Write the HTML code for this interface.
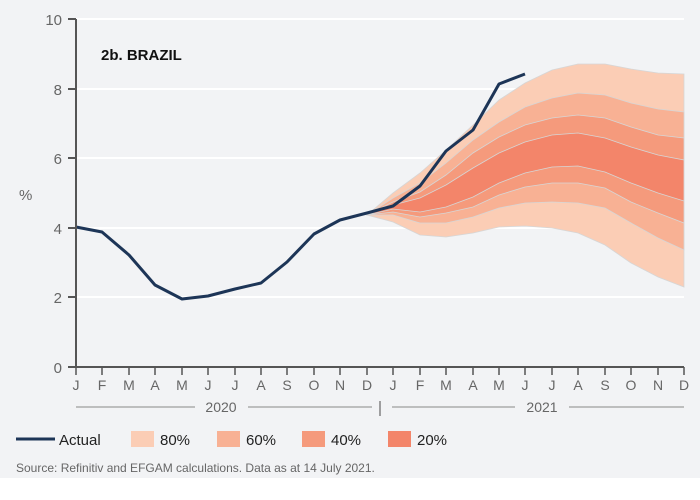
<!DOCTYPE html>
<html><head><meta charset="utf-8"><style>
body{margin:0;background:#fff;}
svg{display:block;font-family:"Liberation Sans",sans-serif;}
</style></head><body>
<svg width="700" height="500" viewBox="0 0 700 500">
<rect x="0" y="0" width="700" height="478" fill="#f2f3f5"/>
<g stroke="#ffffff" stroke-width="2">
<line x1="76" y1="19" x2="684" y2="19"/><line x1="76" y1="89" x2="684" y2="89"/>
<line x1="76" y1="158" x2="684" y2="158"/><line x1="76" y1="228" x2="684" y2="228"/>
<line x1="76" y1="297" x2="684" y2="297"/>
</g>
<g stroke="#d6d6d6" stroke-width="0.8">
<polygon fill="#fbcdb5" points="367,215 393,193 420,173 446,150 473,125 499,100 525,83 552,70 578,64 605,64 631,69 658,73 684,74 684,287 658,277 631,263 605,245 578,233 552,228 525,226 499,227 473,233 446,237 420,235 393,222"/>
<polygon fill="#f8b194" points="367,215 393,198 420,183 446,163 473,140 499,122 525,107 552,98 578,93 605,95 631,103 658,109 684,112 684,250 658,238 631,223 605,208 578,203 552,202 525,203 499,208 473,217 446,223 420,223 393,215"/>
<polygon fill="#f59a7c" points="367,215 393,202 420,192 446,175 473,153 499,137 525,125 552,118 578,115 605,118 631,127 658,135 684,138 684,223 658,213 631,202 605,188 578,183 552,183 525,187 499,195 473,207 446,213 420,217 393,212"/>
<polygon fill="#f3856a" points="367,215 393,205 420,198 446,185 473,168 499,153 525,142 552,135 578,133 605,138 631,147 658,155 684,160 684,201 658,193 631,183 605,172 578,166 552,167 525,173 499,183 473,197 446,207 420,212 393,209"/>
</g>
<polyline fill="none" stroke="#1d3557" stroke-width="3" stroke-linejoin="round" points="76,227 102,232 129,255 155,285 182,299 208,296 235,289 261,283 287,262 314,234 340,220 367,213 393,206 420,186 446,151 473,130 499,84 525,74"/>
<g stroke="#555" stroke-width="2">
<line x1="76" y1="19" x2="76" y2="367"/><line x1="68" y1="367" x2="684" y2="367"/>
<line x1="68" y1="19" x2="76" y2="19"/><line x1="68" y1="89" x2="76" y2="89"/><line x1="68" y1="158" x2="76" y2="158"/><line x1="68" y1="228" x2="76" y2="228"/><line x1="68" y1="297" x2="76" y2="297"/>
</g>
<g stroke="#555" stroke-width="1.5" id="t"></g>
<g fill="#666" font-size="15" text-anchor="end">
<text x="62" y="25">10</text><text x="62" y="95">8</text><text x="62" y="164">6</text><text x="62" y="234">4</text><text x="62" y="303">2</text><text x="62" y="373">0</text>
</g>
<text x="19" y="200" fill="#666" font-size="15">%</text>
<text x="101" y="60" fill="#111" font-size="15" font-weight="bold">2b. BRAZIL</text>
<g fill="#666" font-size="14" text-anchor="middle" stroke="#555" stroke-width="1.5">
<script>
</script>
</g>
<g fill="#666" font-size="14" text-anchor="middle">
<text x="76" y="390">J</text><text x="102" y="390">F</text><text x="129" y="390">M</text><text x="155" y="390">A</text><text x="182" y="390">M</text><text x="208" y="390">J</text><text x="235" y="390">J</text><text x="261" y="390">A</text><text x="287" y="390">S</text><text x="314" y="390">O</text><text x="340" y="390">N</text><text x="367" y="390">D</text>
<text x="393" y="390">J</text><text x="420" y="390">F</text><text x="446" y="390">M</text><text x="473" y="390">A</text><text x="499" y="390">M</text><text x="525" y="390">J</text><text x="552" y="390">J</text><text x="578" y="390">A</text><text x="605" y="390">S</text><text x="631" y="390">O</text><text x="658" y="390">N</text><text x="684" y="390">D</text>
<text x="221" y="412">2020</text><text x="542" y="412">2021</text>
</g>
<g stroke="#555" stroke-width="1.5">
<line x1="76" y1="367" x2="76" y2="375"/><line x1="102" y1="367" x2="102" y2="375"/><line x1="129" y1="367" x2="129" y2="375"/><line x1="155" y1="367" x2="155" y2="375"/><line x1="182" y1="367" x2="182" y2="375"/><line x1="208" y1="367" x2="208" y2="375"/><line x1="235" y1="367" x2="235" y2="375"/><line x1="261" y1="367" x2="261" y2="375"/><line x1="287" y1="367" x2="287" y2="375"/><line x1="314" y1="367" x2="314" y2="375"/><line x1="340" y1="367" x2="340" y2="375"/><line x1="367" y1="367" x2="367" y2="375"/><line x1="393" y1="367" x2="393" y2="375"/><line x1="420" y1="367" x2="420" y2="375"/><line x1="446" y1="367" x2="446" y2="375"/><line x1="473" y1="367" x2="473" y2="375"/><line x1="499" y1="367" x2="499" y2="375"/><line x1="525" y1="367" x2="525" y2="375"/><line x1="552" y1="367" x2="552" y2="375"/><line x1="578" y1="367" x2="578" y2="375"/><line x1="605" y1="367" x2="605" y2="375"/><line x1="631" y1="367" x2="631" y2="375"/><line x1="658" y1="367" x2="658" y2="375"/><line x1="684" y1="367" x2="684" y2="375"/>
</g>
<g stroke="#888" stroke-width="1">
<line x1="76" y1="407" x2="195" y2="407"/><line x1="248" y1="407" x2="372" y2="407"/>
<line x1="392" y1="407" x2="515" y2="407"/><line x1="569" y1="407" x2="684" y2="407"/>
<line x1="380" y1="401" x2="380" y2="416" stroke="#666" stroke-width="1.2"/>
</g>
<line x1="16" y1="439" x2="55" y2="439" stroke="#1d3557" stroke-width="3"/>
<g font-size="15" fill="#222">
<text x="59" y="445">Actual</text>
<rect x="131" y="431" width="23" height="16" fill="#fbcdb5"/><text x="160" y="445">80%</text>
<rect x="217" y="431" width="23" height="16" fill="#f8b194"/><text x="246" y="445">60%</text>
<rect x="302" y="431" width="23" height="16" fill="#f59a7c"/><text x="331" y="445">40%</text>
<rect x="388" y="431" width="23" height="16" fill="#f3856a"/><text x="417" y="445">20%</text>
</g>
<text x="16" y="472" font-size="12" fill="#666">Source: Refinitiv and EFGAM calculations. Data as at 14 July 2021.</text>
</svg>
</body></html>
